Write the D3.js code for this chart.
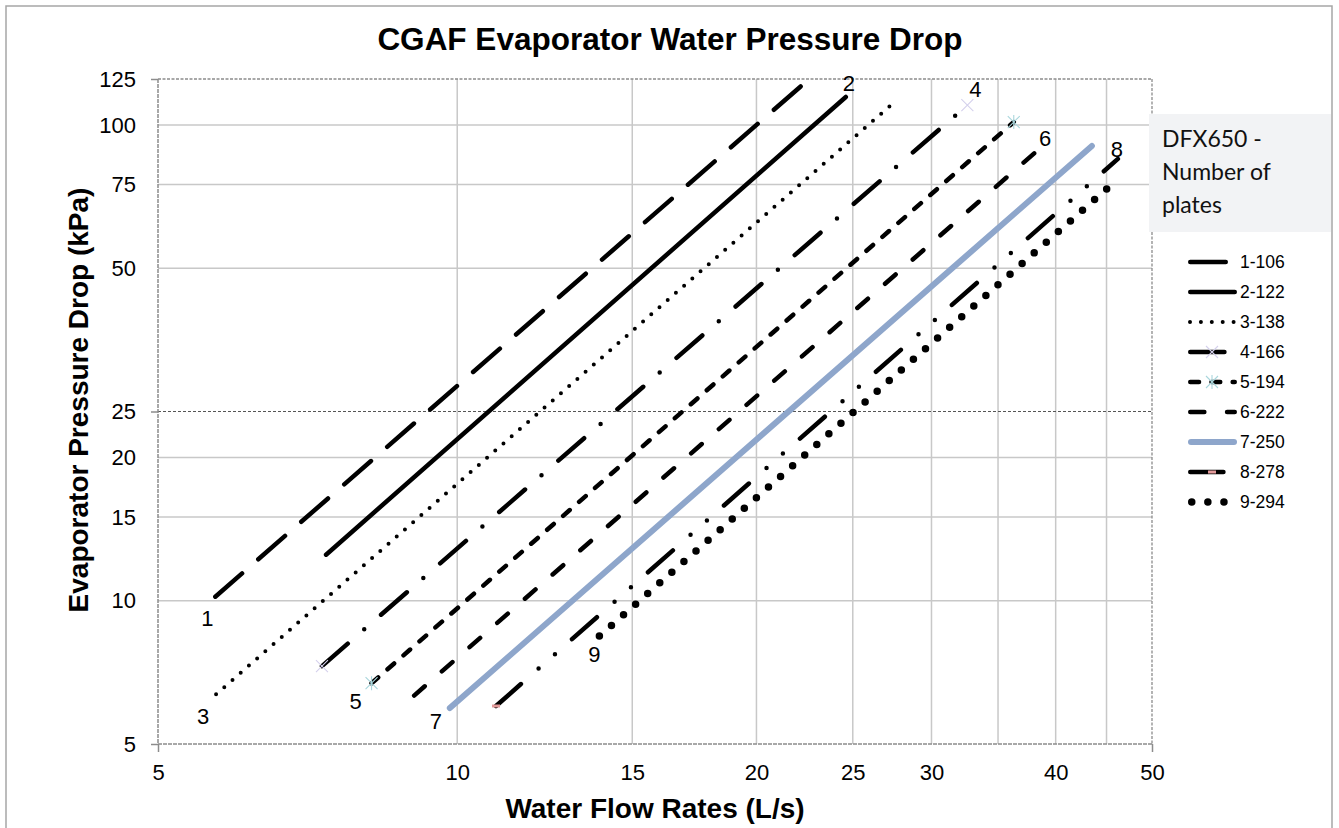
<!DOCTYPE html>
<html><head><meta charset="utf-8">
<script src="https://cdn.jsdelivr.net/npm/d3@7"></script>
<style>body{margin:0;background:#fff;} svg{display:block;}</style>
</head><body>
<svg id="chart" width="1339" height="828"></svg>
<script>
// ---- data ----
const seriesNames = ["1-106","2-122","3-138","4-166","5-194","6-222","7-250","8-278","9-294"];
const curveLabels = ["1","2","3","4","5","6","7","8","9"];
const flowStart = [5.71, 7.38, 5.72, 7.31, 8.20, 9.05, 9.83, 10.94, 13.9];
const flowEnd   = [22.4, 24.6, 27.4, 32.6, 36.3, 38.5, 43.5, 46.2, 46.2];
const dropStart = [10.2, 12.5, 6.36, 7.29, 6.71, 6.32, 5.95, 6.01, 8.43];
const dropEnd   = [123, 114.6, 110.8, 110.2, 101.5, 89.1, 90.4, 84.9, 77.0];
const xTickValues = [5,10,15,20,25,30,40,50];
const xGridValues = [10,15,20,25,30,35,40,45];
const yTickValues = [5,10,15,20,25,50,75,100,125];
const yGridValues = [10,15,20,50,75,100];
const yRefValue = 25;
const xMajorTicks = [5,50];
const yMajorTicks = [5,25,125];
const legendTitle = ["DFX650 -","Number of","plates"];
const chartTitle = "CGAF Evaporator Water Pressure Drop";
const xTitle = "Water Flow Rates (L/s)";
const yTitle = "Evaporator Pressure Drop (kPa)";

// ---- styles ----
const styles = [
  {w:4.5, color:"#000", dash:"35.5,21.5", at:"start", dx:-8, dy:21},
  {w:4.5, color:"#000", dash:null, at:"end", dx:3, dy:-14},
  {w:4, color:"#000", dash:"0,10.9", at:"start", dx:-13, dy:22},
  {w:4.5, color:"#000", dash:"34.2,21.8,0,22.3", at:"end", dx:8, dy:-16, marker:"x", markEnds:[0,1]},
  {w:4.5, color:"#000", dash:"8.8,12.4", at:"start", dx:-16, dy:18, marker:"star", markEnds:[0,1]},
  {w:4.5, color:"#000", dash:"14.1,22.7", at:"end", dx:6, dy:-11},
  {w:6, color:"#8ea6cb", dash:null, at:"start", dx:-14, dy:13},
  {w:4.5, color:"#000", dash:"33.2,23.5,0,21.8,0,22.7", at:"end", dx:-1, dy:-10, marker:"pink", markEnds:[0]},
  {w:7.5, color:"#000", dash:"0,16.1", at:"start", dx:-5, dy:18}
];

const svg = d3.select("#chart");
const pLeft=158, pRight=1152, pTop=79, pBottom=744;
const x = d3.scaleLog().domain([5,50]).range([pLeft,pRight]);
const y = d3.scaleLog().domain([5,125]).range([pBottom,pTop]);
const font = "'Liberation Sans', Arial, sans-serif";

// outer frame
svg.append("rect").attr("x",6).attr("y",6).attr("width",1326).attr("height",830)
  .attr("fill","none").attr("stroke","#a6a6a6").attr("stroke-width",1.5);

// grid
svg.append("g").selectAll("line").data(xGridValues).join("line")
  .attr("x1",d=>x(d)).attr("x2",d=>x(d)).attr("y1",pTop).attr("y2",pBottom)
  .attr("stroke","#c8c8c8").attr("stroke-width",1.5);
svg.append("g").selectAll("line").data(yGridValues).join("line")
  .attr("x1",pLeft).attr("x2",pRight).attr("y1",d=>y(d)).attr("y2",d=>y(d))
  .attr("stroke","#c8c8c8").attr("stroke-width",1.5);
svg.append("line").attr("x1",pLeft).attr("x2",pRight).attr("y1",y(yRefValue)).attr("y2",y(yRefValue))
  .attr("stroke","#555").attr("stroke-width",1).attr("stroke-dasharray","3,2");

// plot border
const bcol="#8c8c8c";
svg.append("line").attr("x1",pLeft).attr("x2",pRight).attr("y1",pTop).attr("y2",pTop)
  .attr("stroke",bcol).attr("stroke-width",1.3).attr("stroke-dasharray","3,1.5");
svg.append("line").attr("x1",pRight).attr("x2",pRight).attr("y1",pTop).attr("y2",pBottom)
  .attr("stroke",bcol).attr("stroke-width",1.3).attr("stroke-dasharray","3,1.5");
svg.append("line").attr("x1",pLeft).attr("x2",pLeft).attr("y1",pTop).attr("y2",pBottom)
  .attr("stroke",bcol).attr("stroke-width",1.5).attr("stroke-dasharray","4,1");
svg.append("line").attr("x1",pLeft).attr("x2",pRight).attr("y1",pBottom).attr("y2",pBottom)
  .attr("stroke",bcol).attr("stroke-width",1.5).attr("stroke-dasharray","4,1");

// major ticks
svg.append("g").attr("transform",`translate(0,${pBottom})`)
  .call(d3.axisBottom(x).tickValues(xMajorTicks).tickFormat("").tickSize(8).tickSizeOuter(0))
  .call(g=>{g.select(".domain").remove(); g.selectAll("line").attr("stroke",bcol).attr("stroke-width",1.5);});
svg.append("g").attr("transform",`translate(${pLeft},0)`)
  .call(d3.axisLeft(y).tickValues(yMajorTicks).tickFormat("").tickSize(7).tickSizeOuter(0))
  .call(g=>{g.select(".domain").remove(); g.selectAll("line").attr("stroke",bcol).attr("stroke-width",1.5);});

// tick labels
svg.append("g").attr("transform",`translate(0,${pBottom})`)
  .call(d3.axisBottom(x).tickValues(xTickValues).tickFormat(d3.format("d")).tickSize(0).tickPadding(20))
  .call(g=>{g.select(".domain").remove(); g.selectAll("text").attr("font-family",font).attr("font-size",22).attr("fill","#000");});
svg.append("g").attr("transform",`translate(${pLeft},0)`)
  .call(d3.axisLeft(y).tickValues(yTickValues).tickFormat(d3.format("d")).tickSize(0).tickPadding(22))
  .call(g=>{g.select(".domain").remove(); g.selectAll("text").attr("font-family",font).attr("font-size",22).attr("fill","#000");});

// titles
svg.append("text").attr("x",670).attr("y",50).attr("text-anchor","middle")
  .attr("font-family",font).attr("font-weight","bold").attr("font-size",31.5).text(chartTitle);
svg.append("text").attr("x",655).attr("y",818).attr("text-anchor","middle")
  .attr("font-family",font).attr("font-weight","bold").attr("font-size",28).text(xTitle);
svg.append("text").attr("transform","translate(88,400) rotate(-90)").attr("text-anchor","middle")
  .attr("font-family",font).attr("font-weight","bold").attr("font-size",28).text(yTitle);

// series
const series = seriesNames.map((n,i)=>({name:n, label:curveLabels[i], st:styles[i],
  pts:[[flowStart[i],dropStart[i]],[flowEnd[i],dropEnd[i]]]}));
const line = d3.line().x(d=>x(d[0])).y(d=>y(d[1]));
const plot = svg.append("g");
series.forEach(s=>{
  plot.append("path").attr("d",line(s.pts)).attr("fill","none")
    .attr("stroke",s.st.color).attr("stroke-width",s.st.w)
    .attr("stroke-linecap","round")
    .attr("stroke-dasharray",s.st.dash);
});

function drawMarker(g,type,cx,cy){
  if(type==="x"){
    g.append("path").attr("d",`M${cx-6},${cy-6}L${cx+6},${cy+6}M${cx-6},${cy+6}L${cx+6},${cy-6}`)
      .attr("stroke","#d4d0ec").attr("stroke-width",1.1);
  } else if(type==="star"){
    g.append("path").attr("d",`M${cx-6},${cy-6}L${cx+6},${cy+6}M${cx-6},${cy+6}L${cx+6},${cy-6}M${cx},${cy-7}L${cx},${cy+7}`)
      .attr("stroke","#a9d6dc").attr("stroke-width",1.1);
  } else if(type==="pink"){
    g.append("rect").attr("x",cx-4).attr("y",cy-1.5).attr("width",8).attr("height",3).attr("fill","#e39a9a");
  }
}
const markers = svg.append("g");
series.forEach(s=>{
  if(!s.st.marker) return;
  s.st.markEnds.forEach(k=>drawMarker(markers,s.st.marker,x(s.pts[k][0]),y(s.pts[k][1])));
});

// curve labels
series.forEach(s=>{
  const p = s.st.at==="start" ? s.pts[0] : s.pts[1];
  svg.append("text").attr("x",x(p[0])+s.st.dx).attr("y",y(p[1])+s.st.dy+8)
    .attr("text-anchor","middle").attr("font-family",font).attr("font-size",22).text(s.label);
});

// legend
const lg = svg.append("g");
lg.append("rect").attr("x",1149).attr("y",114).attr("width",182).attr("height",118).attr("fill","#f2f3f5");
legendTitle.forEach((t,i)=>{
  lg.append("text").attr("x",1162).attr("y",147+i*33).attr("font-family","Lato, 'Open Sans', sans-serif")
    .attr("font-size",23).attr("fill","#111").text(t);
});
series.forEach((s,i)=>{
  const yy = 262 + i*30;
  lg.append("path").attr("d",`M${1188+s.st.w/2},${yy}L${1237-s.st.w/2},${yy}`)
    .attr("fill","none").attr("stroke",s.st.color).attr("stroke-width",s.st.w)
    .attr("stroke-linecap","round").attr("stroke-dasharray",s.st.dash);
  if(s.st.marker) drawMarker(lg,s.st.marker,1212,yy);
  lg.append("text").attr("x",1240).attr("y",yy+6).attr("font-family",font).attr("font-size",17.5).text(s.name);
});
</script>
</body></html>
